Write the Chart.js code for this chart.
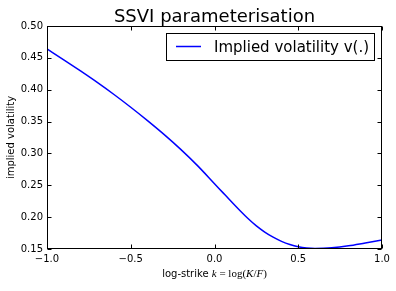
<!DOCTYPE html>
<html>
<head>
<meta charset="utf-8">
<script src="https://cdn.jsdelivr.net/npm/chart.js@4.4.1/dist/chart.umd.min.js"></script>
<style>
html,body{margin:0;padding:0;background:#fff;}
#wrap{width:396px;height:291px;position:relative;}
</style>
</head>
<body>
<div id="wrap"><canvas id="c" width="396" height="291"></canvas></div>
<script>
const chartTitle = "SSVI parameterisation";
const seriesLabel = "Implied volatility v(.)";
const yAxisTitle = "implied volatility";
const xAxisTitleText = "log-strike ";
const kValues = [-1.0,-0.9,-0.8,-0.7,-0.6,-0.5,-0.4,-0.3,-0.2,-0.1,0.0,0.05,0.1,0.15,0.2,0.25,0.3,0.35,0.4,0.45,0.5,0.55,0.6,0.65,0.7,0.8,0.9,1.0];
const impliedVol = [0.464,0.447,0.4295,0.4115,0.3925,0.3725,0.3515,0.3295,0.306,0.2805,0.2525,0.2385,0.2245,0.2108,0.1978,0.1862,0.1765,0.1685,0.162,0.157,0.1535,0.1515,0.1508,0.151,0.1518,0.155,0.1595,0.164];
const xTicks = [-1.0,-0.5,0.0,0.5,1.0];
const yTicks = [0.15,0.20,0.25,0.30,0.35,0.40,0.45,0.50];

const points = kValues.map((k,i)=>({x:k,y:impliedVol[i]}));
const fmt = (v,d)=> v.toFixed(d).replace('-', '\u2212');

const decor = {
  id:'decor',
  afterDraw(chart){
    const {ctx, chartArea:a, scales:{x,y}} = chart;
    ctx.save();
    ctx.strokeStyle='#000'; ctx.lineWidth=1;
    const L=Math.round(a.left)+0.5, R=Math.round(a.right)-0.5, T=Math.round(a.top)+0.5, B=Math.round(a.bottom)-0.5;
    ctx.strokeRect(L,T,R-L,B-T);
    const tl=4;
    ctx.beginPath();
    xTicks.forEach(v=>{
      const px=Math.round(x.getPixelForValue(v))+0.5;
      ctx.moveTo(px,B); ctx.lineTo(px,B-tl);
      ctx.moveTo(px,T); ctx.lineTo(px,T+tl);
    });
    yTicks.forEach(v=>{
      const py=Math.round(y.getPixelForValue(v))+0.5;
      ctx.moveTo(L,py); ctx.lineTo(L+tl,py);
      ctx.moveTo(R,py); ctx.lineTo(R-tl,py);
    });
    ctx.stroke();
    const cx=(a.left+a.right)/2;
    ctx.fillStyle='#000';
    ctx.font='18px "DejaVu Sans"';
    ctx.textAlign='center'; ctx.textBaseline='alphabetic';
    ctx.fillText(chartTitle, cx, 22);
    ctx.save();
    ctx.translate(13.5,(a.top+a.bottom)/2);
    ctx.rotate(-Math.PI/2);
    ctx.font='10px "DejaVu Sans"';
    ctx.textAlign='center';
    ctx.fillText(yAxisTitle,0,0);
    ctx.restore();
    const pieces=[
      {t:xAxisTitleText, f:'10px "DejaVu Sans"'},
      {t:'k', f:'italic 11px "Liberation Serif"'},
      {t:' = ', f:'11px "Liberation Serif"'},
      {t:'log(', f:'11px "Liberation Serif"'},
      {t:'K', f:'italic 11px "Liberation Serif"'},
      {t:'/', f:'11px "Liberation Serif"'},
      {t:'F', f:'italic 11px "Liberation Serif"'},
      {t:')', f:'11px "Liberation Serif"'}
    ];
    let tw=0;
    pieces.forEach(p=>{ctx.font=p.f; p.w=ctx.measureText(p.t).width; tw+=p.w;});
    let sx=cx-tw/2;
    ctx.textAlign='left';
    pieces.forEach(p=>{ctx.font=p.f; ctx.fillText(p.t,sx,277); sx+=p.w;});
    const lx=166.5, ly=33.5, lw=208, lh=27;
    ctx.fillStyle='#fff'; ctx.fillRect(lx,ly,lw,lh);
    ctx.strokeStyle='#000'; ctx.lineWidth=1; ctx.strokeRect(lx,ly,lw,lh);
    const ds=chart.data.datasets[0];
    ctx.strokeStyle=ds.borderColor; ctx.lineWidth=ds.borderWidth;
    ctx.beginPath(); ctx.moveTo(176,46.5); ctx.lineTo(201,46.5); ctx.stroke();
    ctx.fillStyle='#000'; ctx.font='15px "DejaVu Sans"';
    ctx.textAlign='left'; ctx.textBaseline='alphabetic';
    ctx.fillText(ds.label,214,52);
    ctx.restore();
  }
};

new Chart(document.getElementById('c'),{
  type:'line',
  data:{datasets:[{label:seriesLabel,data:points,borderColor:'#0000ff',borderWidth:1.5,pointRadius:0,fill:false,cubicInterpolationMode:'monotone'}]},
  options:{
    responsive:false,animation:false,devicePixelRatio:1,
    layout:{padding:{left:0,top:26,right:14,bottom:0}},
    plugins:{legend:{display:false},title:{display:false},tooltip:{enabled:false}},
    scales:{
      x:{type:'linear',min:-1,max:1,
        afterBuildTicks:(s)=>{s.ticks=xTicks.map(v=>({value:v}));},
        afterFit:(s)=>{s.height=42;},
        grid:{display:false,drawTicks:false},border:{display:false},
        ticks:{padding:4,color:'#000',font:{family:'DejaVu Sans',size:10},callback:(v)=>fmt(v,1),maxRotation:0}},
      y:{type:'linear',min:0.15,max:0.5,
        afterBuildTicks:(s)=>{s.ticks=yTicks.map(v=>({value:v}));},
        afterFit:(s)=>{s.width=47;},
        grid:{display:false,drawTicks:false},border:{display:false},
        ticks:{padding:4,color:'#000',font:{family:'DejaVu Sans',size:10},callback:(v)=>fmt(v,2)}}
    }
  },
  plugins:[decor]
});
</script>
</body>
</html>
